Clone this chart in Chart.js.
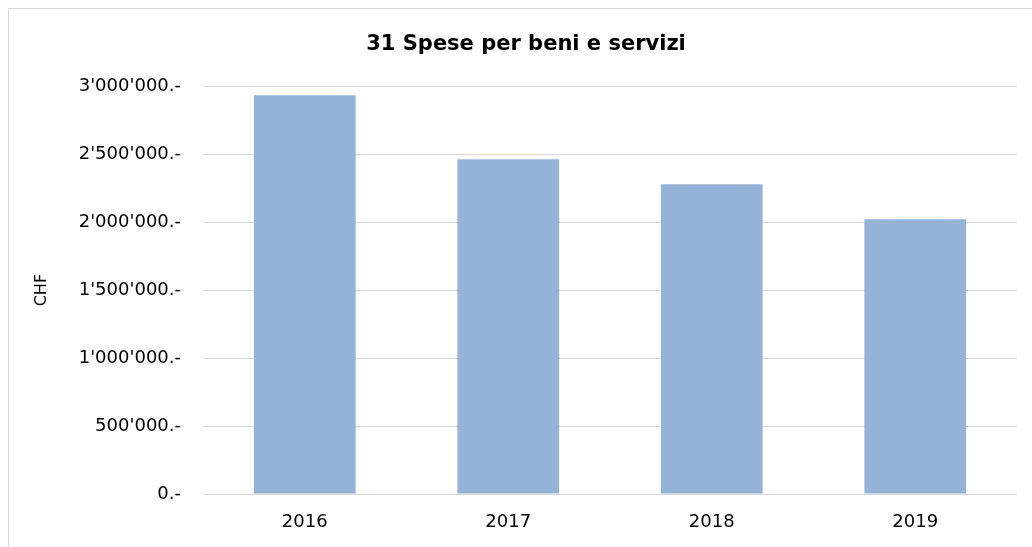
<!DOCTYPE html>
<html>
<head>
<meta charset="utf-8">
<title>31 Spese per beni e servizi</title>
<script src="https://cdn.jsdelivr.net/npm/chart.js@4/dist/chart.umd.min.js"></script>
<style>
    html, body { margin: 0; padding: 0; background: #fff; overflow: hidden; }
    body { width: 1032px; height: 547px; position: relative; }
    #frame {
        position: absolute; left: 8px; top: 8px;
        width: 1034px; height: 538px;
        border-left: 1px solid #d9d9d9; border-top: 1px solid #d9d9d9;
    }
    #chart { display: block; }
</style>
</head>
<body>
<div id="frame"><canvas id="chart" width="1034" height="538"></canvas></div>
<script>
// Chart data
var years = ['2016', '2017', '2018', '2019'];
var spese = [2934000, 2463000, 2279000, 2022000];
var yMax = 3000000;
var yStep = 500000;

// 1234567 -> 1'234'567.-
function formatChf(value) {
    var s = Math.round(value).toString().replace(/\B(?=(\d{3})+(?!\d))/g, "'");
    return s + '.-';
}

var textColor = '#000000';
var gridColor = '#d9d9d9';

new Chart(document.getElementById('chart').getContext('2d'), {
    type: 'bar',
    data: {
        labels: years,
        datasets: [{
            label: '31 Spese per beni e servizi',
            data: spese,
            backgroundColor: '#95b3d7',
            borderWidth: 0,
            barPercentage: 0.5,
            categoryPercentage: 1.0
        }]
    },
    options: {
        responsive: false,
        animation: false,
        layout: { padding: { left: 0, right: 0, top: 0, bottom: 13 } },
        plugins: {
            legend: { display: false },
            tooltip: { enabled: false },
            title: {
                display: true,
                text: '31 Spese per beni e servizi',
                color: textColor,
                font: { family: 'DejaVu Sans', size: 21, weight: 'bold' },
                padding: { top: 23, bottom: 29 }
            }
        },
        scales: {
            x: {
                afterFit: function (scale) { scale.height = 40; },
                grid: { display: false, drawTicks: false },
                border: { display: false },
                ticks: {
                    color: textColor,
                    padding: 18,
                    font: { family: 'DejaVu Sans', size: 18 }
                }
            },
            y: {
                min: 0,
                max: yMax,
                afterFit: function (scale) { scale.width = 194; },
                grid: { color: gridColor, lineWidth: 1, drawTicks: false },
                border: { display: false },
                ticks: {
                    stepSize: yStep,
                    color: textColor,
                    padding: 22,
                    font: { family: 'DejaVu Sans', size: 18 },
                    callback: function (v) { return formatChf(v); }
                },
                title: {
                    display: true,
                    text: 'CHF',
                    color: textColor,
                    font: { family: 'DejaVu Sans', size: 16 },
                    padding: { top: 23, bottom: 0 }
                }
            },
            // empty right-hand axis, keeps the plot margin without shifting the title
            yRight: {
                position: 'right',
                afterFit: function (scale) { scale.width = 26; },
                grid: { display: false },
                border: { display: false },
                ticks: { display: false }
            }
        }
    }
});
</script>
</body>
</html>
